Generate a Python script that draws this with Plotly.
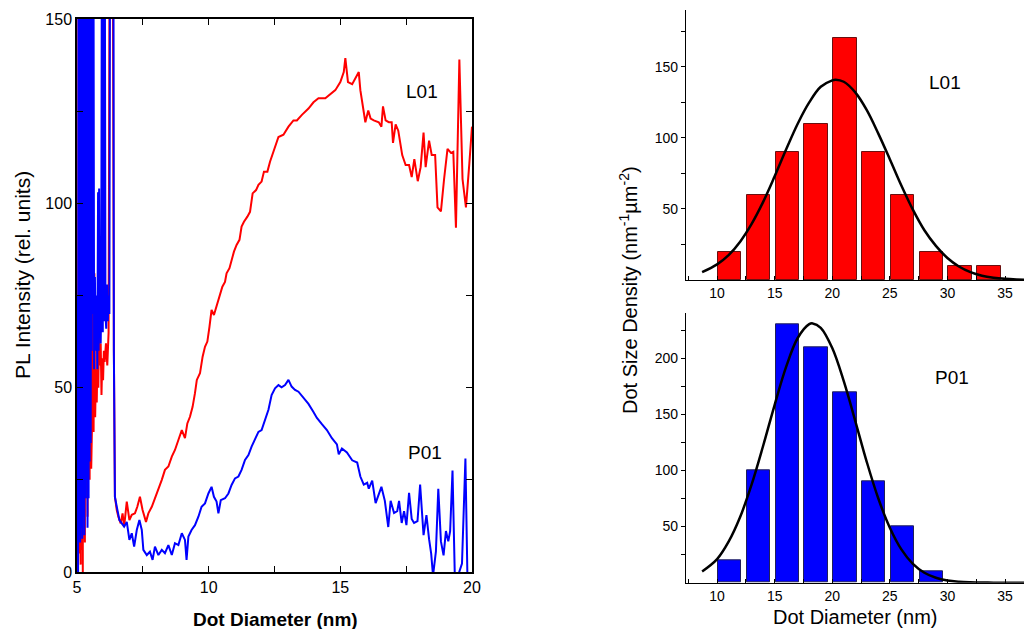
import plotly.graph_objects as go

# ---------------- Left panel: PL spectra ----------------
red_x = [5.00, 5.02, 5.04, 5.06, 5.08, 5.10, 5.12, 5.14, 5.16, 5.18, 5.20, 5.22, 5.24, 5.26, 5.28,
         5.30, 5.32, 5.34, 5.37, 5.40, 5.44, 5.48, 5.52, 5.54, 5.57, 5.60, 5.63, 5.66, 5.69, 5.72,
         5.75, 5.78, 5.81, 5.84, 5.87, 5.90, 5.93, 5.96, 5.99, 6.02, 6.05, 6.10, 6.15, 6.20, 6.25,
         6.30, 6.35, 6.40, 6.42, 6.44, 6.51, 6.57, 6.66, 6.73, 6.79, 6.89, 6.99, 7.08, 7.20, 7.29,
         7.39, 7.49, 7.62, 7.71, 7.84, 7.96, 8.09, 8.22, 8.34, 8.47, 8.60, 8.72, 8.85, 8.98, 9.10,
         9.19, 9.29, 9.39, 9.48, 9.55, 9.67, 9.77, 9.86, 9.95, 10.03, 10.11, 10.20, 10.30, 10.43,
         10.52, 10.62, 10.68, 10.79, 10.87, 10.96, 11.06, 11.17, 11.25, 11.34, 11.47, 11.57, 11.67,
         11.80, 11.89, 12.01, 12.10, 12.23, 12.33, 12.46, 12.65, 12.84, 13.03, 13.22, 13.35, 13.54,
         13.79, 13.98, 14.17, 14.43, 14.62, 14.81, 15.00, 15.13, 15.19, 15.29, 15.45, 15.57, 15.70,
         15.76, 15.89, 15.95, 16.06, 16.15, 16.27, 16.46, 16.56, 16.62, 16.72, 16.84, 16.95, 17.00,
         17.10, 17.20, 17.35, 17.48, 17.61, 17.71, 17.81, 17.94, 18.05, 18.16, 18.24, 18.37, 18.47,
         18.60, 18.69, 18.82, 18.94, 19.07, 19.20, 19.29, 19.39, 19.52, 19.64, 19.77, 19.90, 20.00]
red_y = [0, 8, 0, 200, 5, 200, 15, 2, 200, 6, 200, 0, 200, 12, 200,
         8, 200, 20, 200, 15, 200, 25, 200, 28, 40, 80, 38, 81, 42, 55,
         46, 60, 50, 67, 56, 62, 48, 58, 52, 60, 57, 62, 56, 65, 200,
         200, 200, 60, 30, 20.4, 16.8, 15, 13.2, 15.9, 12.3, 19.1, 14.1, 15.5, 15.9, 17.7,
         20.4, 16.8, 13.6, 15.9, 17.7, 20, 22.2, 25, 27.7, 28.6, 31.3, 33.1, 35.8, 38.5, 36.3,
         40.3, 42.1, 44.8, 48.5, 52.1, 53.9, 58.4, 61.1, 62.5, 66.5, 71.1, 69.7, 72, 74.7,
         77.4, 78.7, 81, 82.4, 84.6, 86.9, 88.7, 90.1, 93.7, 95, 96.4, 97.7, 102.7,
         103.6, 105, 105.9, 108.6, 108.6, 111.3, 114, 118, 118.6, 120.8, 122.5, 122.5, 124,
         125.7, 127.4, 128.5, 128.5, 129.6, 130.7, 132.9, 135.6, 139.4, 132.9, 132.3, 134, 135.6,
         130.7, 124, 122, 125.2, 123, 122.5, 122, 120.8, 126.3, 122.5, 122, 122, 116.4,
         121.4, 119.7, 113.1, 110.4, 110.4, 107.1, 112, 106, 109.8, 119.2, 109.8, 117, 113.1,
         113.1, 98.9, 97.8, 106.6, 114.8, 113.7, 114, 93.4, 139, 106.6, 98.9, 110.9, 120.8]

blue_x = [5.00, 5.02, 5.04, 5.06, 5.08, 5.10, 5.12, 5.14, 5.16, 5.18, 5.20, 5.22, 5.24, 5.26, 5.28,
          5.30, 5.32, 5.34, 5.36, 5.38, 5.40, 5.42, 5.44, 5.46, 5.48, 5.50, 5.52, 5.54, 5.56, 5.58,
          5.60, 5.62, 5.65, 5.68, 5.71, 5.74, 5.77, 5.80, 5.82, 5.84, 5.86, 5.88, 5.90, 5.92, 5.95,
          5.98, 6.00, 6.03, 6.05, 6.08, 6.11, 6.14, 6.17, 6.20, 6.23, 6.26, 6.30, 6.34, 6.38, 6.40,
          6.42, 6.44, 6.51, 6.61, 6.70, 6.79, 6.89, 6.99, 7.08, 7.17, 7.27, 7.37, 7.46, 7.52, 7.65,
          7.77, 7.87, 7.96, 8.09, 8.22, 8.34, 8.47, 8.60, 8.72, 8.85, 8.98, 9.10, 9.16, 9.23, 9.35,
          9.48, 9.61, 9.73, 9.86, 9.99, 10.11, 10.20, 10.30, 10.37, 10.46, 10.62, 10.75, 10.87, 11.00,
          11.13, 11.25, 11.38, 11.51, 11.63, 11.76, 11.89, 12.01, 12.14, 12.27, 12.39, 12.52, 12.65,
          12.77, 12.90, 13.03, 13.15, 13.28, 13.41, 13.60, 13.79, 13.98, 14.11, 14.30, 14.49, 14.68,
          14.87, 14.94, 15.06, 15.25, 15.45, 15.64, 15.76, 15.89, 16.02, 16.08, 16.21, 16.34, 16.46,
          16.56, 16.69, 16.82, 16.91, 17.04, 17.16, 17.23, 17.33, 17.42, 17.51, 17.61, 17.71, 17.80,
          17.93, 18.03, 18.16, 18.27, 18.37, 18.45, 18.52, 18.63, 18.72, 18.82, 18.92, 19.01, 19.10,
          19.17, 19.26, 19.35, 19.52, 19.62, 19.75, 19.83, 20.00]
blue_y = [0, 75, 0, 200, 10, 200, 8, 200, 12, 200, 9, 200, 15, 200, 10,
          200, 20, 200, 25, 180, 12, 200, 20, 190, 30, 160, 35, 200, 60, 200,
          70, 200, 55, 80, 60, 75, 55, 103, 60, 104, 70, 76, 62, 73, 200,
          65, 200, 68, 200, 70, 66, 78, 68, 75, 70, 200, 200, 200, 200, 60,
          30, 20.4, 17.7, 14.1, 13.2, 12.3, 13.6, 8.7, 10.5, 6.9, 11.4, 14.1, 11.4, 6, 4.6,
          5.5, 3.3, 6.9, 4.6, 6, 5.1, 7.3, 4.6, 7.8, 7.3, 10.5, 8.7, 3.3, 9.6, 11.4,
          12.7, 15, 17.7, 18.6, 21.3, 23.1, 20.4, 19.1, 15.9, 19.5, 20, 21.3, 23.6, 25.4,
          25.9, 27.7, 30.4, 31.7, 34, 35.8, 38, 38.5, 41.2, 44, 48, 49.8, 50.7,
          50.1, 50.7, 52.1, 50.3, 49.4, 48.9, 47.2, 45.6, 43.4, 41.8, 40.1, 38.5, 36.3,
          34.6, 31.9, 33.5, 32.4, 30.3, 29.7, 25.9, 23.7, 24.2, 22.6, 24.8, 18.7, 20.9,
          23.1, 19.3, 12.2, 19.3, 16, 16.5, 19.3, 13.3, 16.5, 12.7, 21.5, 14.4, 13.3,
          13.8, 23.7, 10, 15.4, 8.9, 5, -1, 5.6, 22.6, 8.3, 4.5, 11.1, 8.3,
          11.1, 27.5, -2, 0.1, 2.3, 30.8, -3, -3]

left_xticks = [5, 10, 15, 20]
left_xminor = [7.5, 12.5, 17.5]
left_yticks = [0, 50, 100, 150]
left_yminor = [25, 75, 125]

# ---------------- Right panels: histograms ----------------
bin_centers = [11.1, 13.6, 16.1, 18.6, 21.1, 23.6, 26.1, 28.6, 31.1, 33.6]
l01_counts = [20, 60, 90, 110, 170, 90, 60, 20, 10, 10]
p01_counts = [20, 100, 230, 210, 170, 90, 50, 10]

l01_fit_x = [8.7, 10, 11, 12, 13, 14, 15, 16, 17, 18, 19, 20, 20.3, 21, 22, 23, 24, 25, 26, 27,
             28, 29, 30, 31, 32, 33, 34, 35, 36, 37]
l01_fit_y = [5.5, 11, 17.5, 27, 39.5, 55, 73, 92, 110, 125, 136, 140.5, 141, 139.5, 132, 119.5,
             103, 85, 66.5, 49.5, 35, 24, 15.5, 9.5, 5.5, 3, 1.6, 0.8, 0.4, 0.2]
p01_fit_x = [8.7, 10, 11, 12, 13, 14, 15, 16, 17, 18, 18.3, 19, 20, 21, 22, 23, 24, 25, 26, 27,
             28, 29, 30, 31, 32, 33, 34, 35, 36, 37]
p01_fit_y = [10, 21, 36.5, 58.5, 87.5, 122, 158.5, 192.5, 218, 230.3, 231, 227, 209, 179.5, 144,
             107.5, 75, 49, 29.7, 16.8, 8.9, 4.4, 2, 0.9, 0.4, 0.15, 0.06, 0.02, 0.01, 0]

right_xticks = [10, 15, 20, 25, 30, 35]
right_xminor = [7.5, 12.5, 17.5, 22.5, 27.5, 32.5]
top_yticks = [50, 100, 150]
top_yminor = [25, 75, 125, 175]
bot_yticks = [50, 100, 150, 200]
bot_yminor = [25, 75, 125, 175, 225]

FONT = "Arial, Liberation Sans, sans-serif"

fig = go.Figure()
fig.add_trace(go.Scatter(x=red_x, y=red_y, mode="lines", line=dict(color="#ff0000", width=2),
                         xaxis="x", yaxis="y", showlegend=False))
fig.add_trace(go.Scatter(x=blue_x, y=blue_y, mode="lines", line=dict(color="#0000ff", width=2),
                         xaxis="x", yaxis="y", showlegend=False))

fig.add_trace(go.Bar(x=bin_centers[:len(l01_counts)], y=l01_counts, width=2.03,
                     marker=dict(color="#ff0000", line=dict(color="#6a1010", width=1)),
                     xaxis="x2", yaxis="y2", showlegend=False))
fig.add_trace(go.Scatter(x=l01_fit_x, y=l01_fit_y, mode="lines", line=dict(color="black", width=2.5, shape="spline"),
                         xaxis="x2", yaxis="y2", showlegend=False))
fig.add_trace(go.Bar(x=bin_centers[:len(p01_counts)], y=p01_counts, width=2.03,
                     marker=dict(color="#0000ff", line=dict(color="#20205a", width=1)),
                     xaxis="x3", yaxis="y3", showlegend=False))
fig.add_trace(go.Scatter(x=p01_fit_x, y=p01_fit_y, mode="lines", line=dict(color="black", width=2.5, shape="spline"),
                         xaxis="x3", yaxis="y3", showlegend=False))

left_common = dict(showgrid=False, zeroline=False, showline=True, linecolor="black", linewidth=1.5,
                   mirror="ticks", ticks="inside", ticklen=6, tickwidth=1.2, tickcolor="black",
                   automargin=False, tickfont=dict(family=FONT, size=16, color="black"))
right_common = dict(showgrid=False, zeroline=False, showline=True, linecolor="black", linewidth=1.2,
                    tickcolor="black", ticklen=4, automargin=False,
                    tickfont=dict(family=FONT, size=14, color="black"))

fig.update_layout(
    width=1024, height=629, autosize=False, margin=dict(l=0, r=0, t=0, b=0, pad=0),
    paper_bgcolor="white", plot_bgcolor="white", bargap=0,
    xaxis=dict(**left_common, domain=[77/1024, 472/1024], range=[5, 20],
               tickmode="array", tickvals=left_xticks,
               minor=dict(tickvals=left_xminor, ticks="inside", ticklen=6, tickcolor="black", tickwidth=1.2),
               anchor="y"),
    yaxis=dict(**left_common, domain=[57/629, 610/629], range=[0, 150],
               tickmode="array", tickvals=left_yticks,
               minor=dict(tickvals=left_yminor, ticks="inside", ticklen=6, tickcolor="black", tickwidth=1.2),
               anchor="x"),
    xaxis2=dict(**right_common, domain=[686/1024, 1.0], range=[7.3, 36.65], ticks="inside",
                tickmode="array", tickvals=right_xticks,
                minor=dict(tickvals=right_xminor, ticks="inside", ticklen=4, tickcolor="black"),
                anchor="y2"),
    yaxis2=dict(**right_common, domain=[349/629, 619/629], range=[0, 190], ticks="outside",
                tickmode="array", tickvals=top_yticks,
                minor=dict(tickvals=top_yminor, ticks="outside", ticklen=4, tickcolor="black"),
                anchor="x2"),
    xaxis3=dict(**right_common, domain=[686/1024, 1.0], range=[7.3, 36.65], ticks="inside",
                tickmode="array", tickvals=right_xticks,
                minor=dict(tickvals=right_xminor, ticks="inside", ticklen=4, tickcolor="black"),
                anchor="y3"),
    yaxis3=dict(**right_common, domain=[46.3/629, 315.7/629], range=[0, 240], ticks="outside",
                tickmode="array", tickvals=bot_yticks,
                minor=dict(tickvals=bot_yminor, ticks="outside", ticklen=4, tickcolor="black"),
                anchor="x3"),
)

ann = []
ann.append(dict(text="L01", x=18.10, y=130.2, xref="x", yref="y", showarrow=False,
                xanchor="center", yanchor="middle", font=dict(family=FONT, size=19, color="black")))
ann.append(dict(text="P01", x=18.22, y=32.4, xref="x", yref="y", showarrow=False,
                xanchor="center", yanchor="middle", font=dict(family=FONT, size=19, color="black")))
ann.append(dict(text="L01", x=29.78, y=139.2, xref="x2", yref="y2", showarrow=False,
                xanchor="center", yanchor="middle", font=dict(family=FONT, size=19, color="black")))
ann.append(dict(text="P01", x=30.39, y=182.4, xref="x3", yref="y3", showarrow=False,
                xanchor="center", yanchor="middle", font=dict(family=FONT, size=19, color="black")))
ann.append(dict(text="<b>Dot Diameter (nm)</b>", x=275/1024, y=(629-619)/629, xref="paper", yref="paper",
                showarrow=False, xanchor="center", yanchor="middle",
                font=dict(family=FONT, size=19, color="black")))
ann.append(dict(text="PL Intensity (rel. units)", x=22/1024, y=(629-275)/629, xref="paper", yref="paper",
                showarrow=False, textangle=-90, xanchor="center", yanchor="middle",
                font=dict(family=FONT, size=21, color="black")))
ann.append(dict(text="Dot Size Density (nm<sup>-1</sup>\u00b5m<sup>-2</sup>)", x=628/1024, y=(629-290)/629,
                xref="paper", yref="paper", showarrow=False, textangle=-90, xanchor="center", yanchor="middle",
                font=dict(family=FONT, size=20, color="black")))
ann.append(dict(text="Dot Diameter (nm)", x=855/1024, y=(629-617)/629, xref="paper", yref="paper",
                showarrow=False, xanchor="center", yanchor="middle",
                font=dict(family=FONT, size=20, color="black")))
fig.update_layout(annotations=ann)

fig.write_html("out.html", config={"displayModeBar": False, "responsive": False},
               post_script="document.body.style.margin='0px';document.body.style.padding='0px';"
                           "document.body.style.overflow='hidden';")
